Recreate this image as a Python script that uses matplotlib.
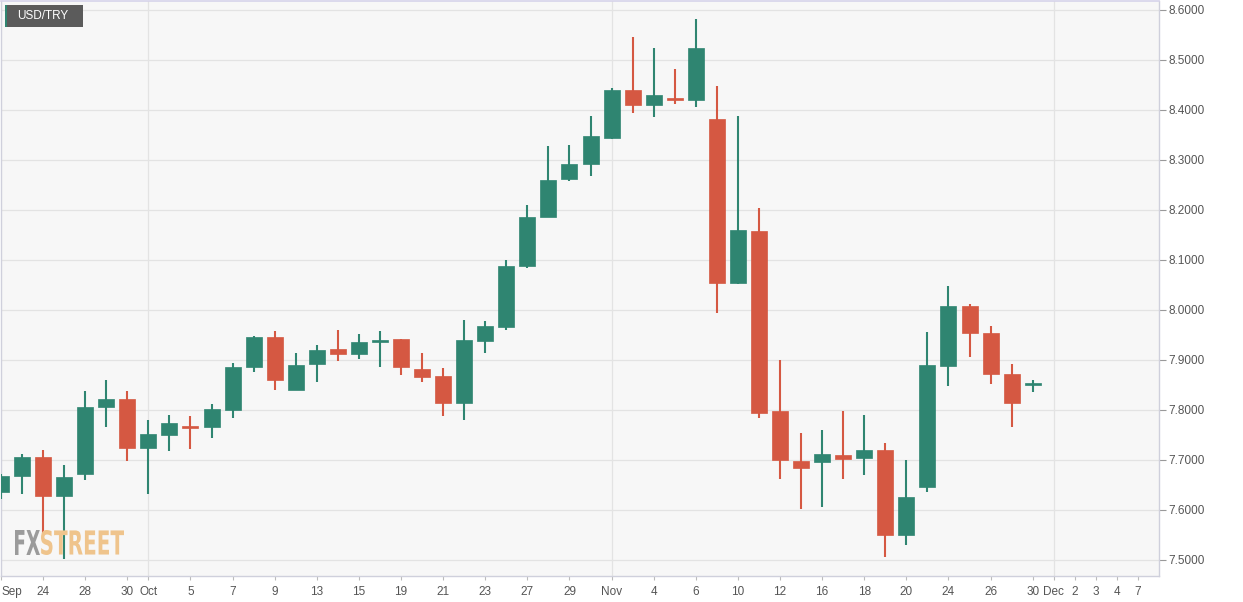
import matplotlib
matplotlib.use("Agg")
import matplotlib.pyplot as plt
from matplotlib.textpath import TextPath
from matplotlib.patches import PathPatch, Rectangle
from matplotlib.font_manager import FontProperties
from matplotlib.transforms import Affine2D
import numpy as np

# USD/TRY daily candles, Sep 22 - Nov 30 (trading days)
opens = [7.635, 7.666, 7.704, 7.626, 7.672, 7.804, 7.820, 7.722, 7.750, 7.765,
         7.764, 7.800, 7.886, 7.946, 7.840, 7.891, 7.920, 7.912, 7.936, 7.940,
         7.882, 7.866, 7.812, 7.938, 7.966, 8.087, 8.186, 8.261, 8.292, 8.343,
         8.439, 8.410, 8.424, 8.419, 8.380, 8.054, 8.158, 7.796, 7.696, 7.696,
         7.709, 7.704, 7.718, 7.548, 7.644, 7.888, 8.007, 7.954, 7.872, 7.850]
highs = [7.671, 7.711, 7.719, 7.690, 7.838, 7.859, 7.838, 7.779, 7.789, 7.787,
         7.811, 7.894, 7.948, 7.957, 7.914, 7.929, 7.959, 7.951, 7.957, 7.941,
         7.914, 7.884, 7.979, 7.977, 8.099, 8.209, 8.327, 8.329, 8.387, 8.444,
         8.546, 8.524, 8.481, 8.581, 8.447, 8.387, 8.204, 7.899, 7.754, 7.759,
         7.798, 7.789, 7.734, 7.700, 7.956, 8.047, 8.011, 7.967, 7.891, 7.859]
lows = [7.622, 7.631, 7.552, 7.502, 7.660, 7.766, 7.697, 7.632, 7.718, 7.721,
        7.744, 7.784, 7.876, 7.839, 7.839, 7.856, 7.897, 7.901, 7.886, 7.870,
        7.856, 7.787, 7.780, 7.914, 7.960, 8.084, 8.185, 8.258, 8.268, 8.342,
        8.394, 8.386, 8.411, 8.406, 7.994, 8.051, 7.784, 7.661, 7.601, 7.606,
        7.661, 7.670, 7.506, 7.529, 7.636, 7.847, 7.906, 7.851, 7.766, 7.836]
closes = [7.666, 7.704, 7.626, 7.665, 7.804, 7.820, 7.722, 7.750, 7.774, 7.763,
          7.800, 7.884, 7.946, 7.859, 7.890, 7.920, 7.911, 7.936, 7.938, 7.884,
          7.866, 7.812, 7.938, 7.966, 8.087, 8.185, 8.260, 8.292, 8.347, 8.439,
          8.410, 8.430, 8.420, 8.522, 8.054, 8.159, 7.794, 7.698, 7.682, 7.711,
          7.701, 7.718, 7.548, 7.625, 7.888, 8.007, 7.954, 7.872, 7.814, 7.852]

# x-axis labels at trading-day positions (0 = Sep 22)
tick_pos = [0, 2, 4, 6, 7, 9, 11, 13, 15, 17, 19, 21, 23, 25, 27, 29, 31, 33,
            35, 37, 39, 41, 43, 45, 47, 49, 50, 51, 52, 53, 54]
tick_labels = ["Sep", "24", "28", "30", "Oct", "5", "7", "9", "13", "15", "19",
               "21", "23", "27", "29", "Nov", "4", "6", "10", "12", "16", "18",
               "20", "24", "26", "30", "Dec", "2", "3", "4", "7"]
month_pos = [7, 29, 50]
y_ticks = [7.5, 7.6, 7.7, 7.8, 7.9, 8.0, 8.1, 8.2, 8.3, 8.4, 8.5, 8.6]

GREEN = "#2f8571"
RED = "#d55842"

W, H = 1243, 602
fig = plt.figure(figsize=(W / 100, H / 100), dpi=100)
fig.patch.set_facecolor("white")
ax = fig.add_axes([1 / W, 26 / H, 1158 / W, 575 / H])
ax.set_facecolor("#f7f7f7")

x = np.arange(len(opens))
o = np.array(opens)
c = np.array(closes)
up = c >= o
colors = np.where(up, GREEN, RED)
bottoms = np.minimum(o, c)
heights = np.maximum(np.abs(c - o), 0.004)

ax.vlines(x, lows, highs, colors=colors, linewidth=1.5, zorder=3)
ax.bar(x, heights, bottom=bottoms, width=0.76, color=colors,
       edgecolor=colors, linewidth=0.5, zorder=4)

ax.set_xlim(0, 55.0)
ax.set_ylim(7.467, 8.617)

ax.set_yticks(y_ticks)
ax.set_yticklabels([f"{v:.4f}" for v in y_ticks])
ax.yaxis.tick_right()
ax.set_xticks(tick_pos)
ax.set_xticklabels(tick_labels)
ax.tick_params(axis="y", length=5, width=0.8, color="#999999",
               labelcolor="#555555", labelsize=8.5, pad=2)
ax.tick_params(axis="x", length=3, width=0.8, color="#bbbbbb",
               labelcolor="#555555", labelsize=8.5, pad=4)
for lab in ax.get_xticklabels():
    lab.set_fontfamily("Liberation Sans")
for lab in ax.get_yticklabels():
    lab.set_fontfamily("Liberation Sans")
ax.get_xticklabels()[0].set_horizontalalignment("left")

for v in y_ticks:
    ax.axhline(v, color="#e3e3e3", linewidth=0.9, zorder=1)
for p in month_pos:
    ax.axvline(p, color="#e3e3e3", linewidth=0.9, zorder=1)

for side in ["left", "right", "bottom"]:
    ax.spines[side].set_color("#cfd0dc")
    ax.spines[side].set_linewidth(1.0)
ax.spines["top"].set_color("#d6d3ea")
ax.spines["top"].set_linewidth(1.2)

# instrument label box
fig.add_artist(Rectangle((5 / W, 1 - 27 / H), 78 / W, 22 / H,
                         transform=fig.transFigure, facecolor="#5b5b5b",
                         edgecolor="none", zorder=10))
fig.add_artist(Rectangle((5 / W, 1 - 27 / H), 2 / W, 22 / H,
                         transform=fig.transFigure, facecolor=GREEN,
                         edgecolor="none", zorder=11))
fig.text(17 / W, 1 - 16 / H, "USD/TRY", color="white", fontsize=8.5,
         family="Liberation Sans", va="center", ha="left", zorder=12)


# FXSTREET logo, drawn as scaled text paths in pixel space
def logo_part(txt, x0, x1, y0, y1, col):
    fp = FontProperties(family="DejaVu Sans", weight="bold")
    tp = TextPath((0, 0), txt, size=10, prop=fp)
    ext = tp.get_extents()
    sx = (x1 - x0) / ext.width
    sy = (y1 - y0) / ext.height
    tr = (Affine2D().translate(-ext.x0, -ext.y0).scale(sx, sy)
          .translate(x0, H - y1).scale(1 / W, 1 / H) + fig.transFigure)
    fig.add_artist(PathPatch(tp, transform=tr, facecolor=col,
                             edgecolor="none", zorder=2))


logo_part("FX", 15, 40, 530, 555, "#9b9b9b")
logo_part("STREET", 41, 124, 530, 555, "#efc48c")

fig.savefig("out.png", dpi=100)
